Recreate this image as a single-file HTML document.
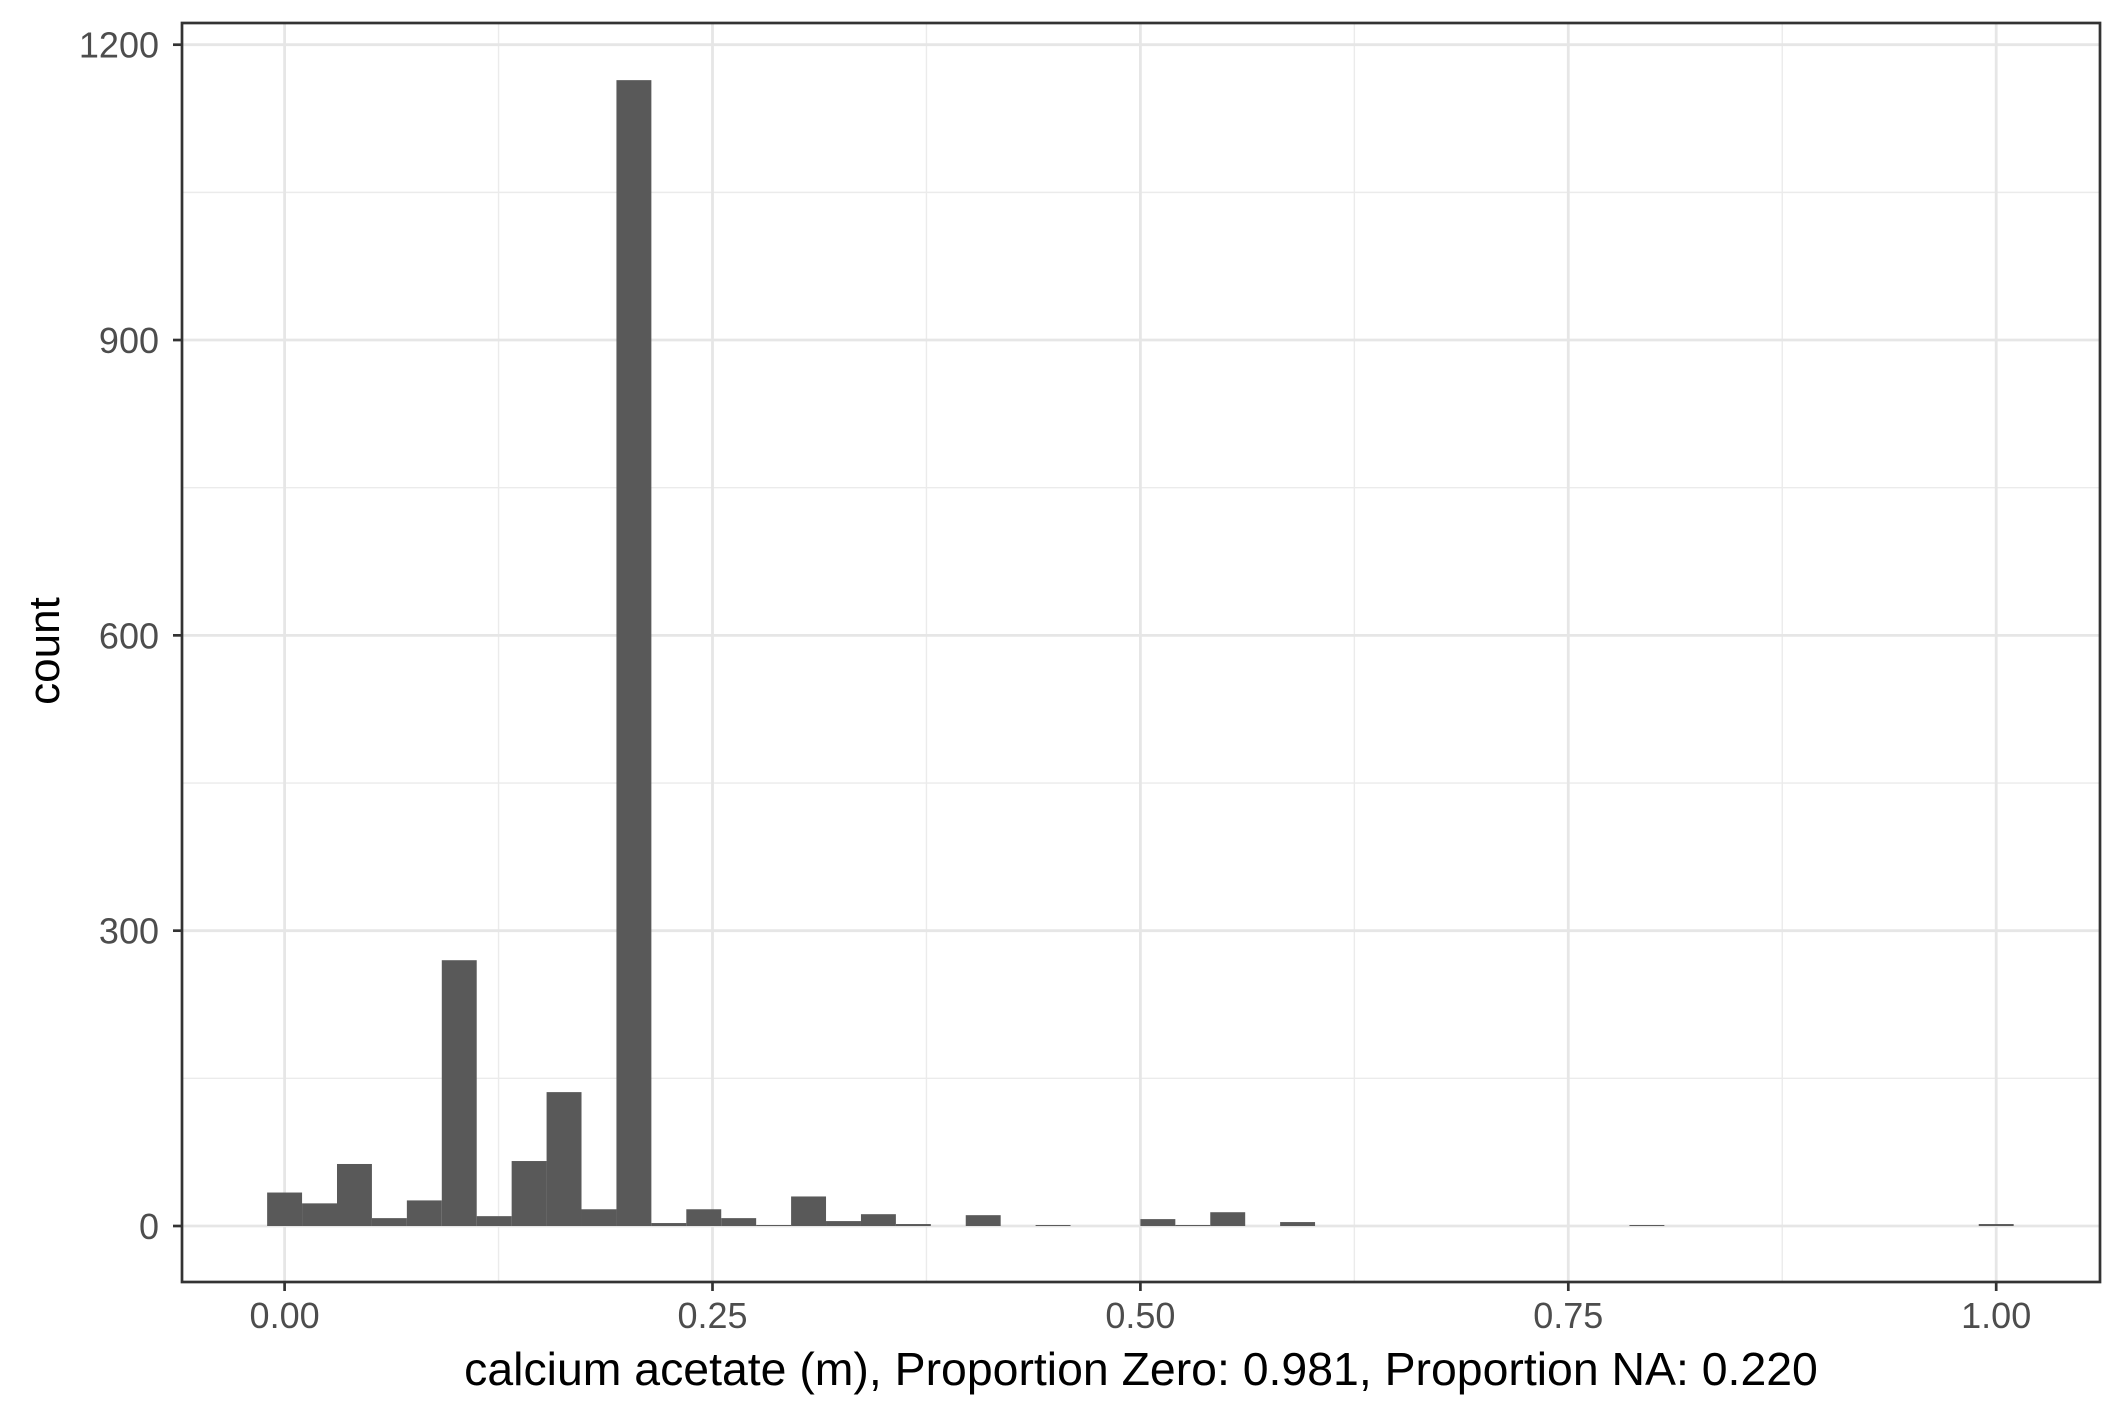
<!DOCTYPE html>
<html><head><meta charset="utf-8"><style>body{margin:0;background:#fff}svg{display:block}text{font-family:"Liberation Sans",Arial,sans-serif}</style></head>
<body>
<svg id="chart" width="2125" height="1417" viewBox="0 0 2125 1417">
<rect x="0" y="0" width="2125" height="1417" fill="#fff"/>
<g id="grid"></g><g id="bars"></g><g id="axes"></g>
</svg>
<script>
const binCenters = Array.from({length:50},(_,k)=>k/49);
const counts = [34,23,63,8,26,270,10,66,136,17,1164,3,17,8,1,30,5,12,2,0,11,0,1,0,0,7,1,14,0,4,0,0,0,0,0,0,0,0,0,1,0,0,0,0,0,0,0,0,0,2];
const xTicks = [0,0.25,0.5,0.75,1.0];
const xTickLabels = ["0.00","0.25","0.50","0.75","1.00"];
const yTicks = [0,300,600,900,1200];
const binWidth = 1/49;
const NS="http://www.w3.org/2000/svg";
const L=182,R=2100,T=23,B=1282;
const X=v=>284.6+v*1711.6;
const Y=v=>1226-v*(1226-44.7)/1200;
function mk(t,a,p){const e=document.createElementNS(NS,t);for(const k in a)e.setAttribute(k,a[k]);p.appendChild(e);return e;}
const grid=document.getElementById('grid'),bars=document.getElementById('bars'),axes=document.getElementById('axes');
for(let i=0;i<xTicks.length-1;i++){const m=(xTicks[i]+xTicks[i+1])/2;const e=mk('line',{x1:X(m),x2:X(m),y1:T,y2:B,stroke:'#ebebeb','stroke-width':1.4},grid);

}
for(let i=0;i<yTicks.length-1;i++){const m=(yTicks[i]+yTicks[i+1])/2;const e=mk('line',{x1:L,x2:R,y1:Y(m),y2:Y(m),stroke:'#ebebeb','stroke-width':1.4},grid);

}
xTicks.forEach(v=>{const e=mk('line',{x1:X(v),x2:X(v),y1:T,y2:B,stroke:'#e6e6e6','stroke-width':2.8},grid);

});
yTicks.forEach(v=>{const e=mk('line',{x1:L,x2:R,y1:Y(v),y2:Y(v),stroke:'#e6e6e6','stroke-width':2.8},grid);

});
binCenters.forEach((c,i)=>{const v=counts[i];const x0=X(c-binWidth/2),x1=X(c+binWidth/2);
const e=mk('rect',{x:x0,y:Y(v),width:x1-x0,height:Y(0)-Y(v),fill:'#595959'},bars);

});
const pb=mk('rect',{x:L,y:T,width:R-L,height:B-T,fill:'none',stroke:'#333','stroke-width':2.7},axes);


xTicks.forEach((v,i)=>{mk('line',{x1:X(v),x2:X(v),y1:B,y2:B+9,stroke:'#333','stroke-width':2.7},axes);
const t=mk('text',{x:X(v),y:B+46,'text-anchor':'middle','font-size':36,fill:'#4d4d4d'},axes);t.textContent=xTickLabels[i];

});
yTicks.forEach(v=>{mk('line',{x1:L-9,x2:L,y1:Y(v),y2:Y(v),stroke:'#333','stroke-width':2.7},axes);
const t=mk('text',{x:159,y:Y(v)+13,'text-anchor':'end','font-size':36,fill:'#4d4d4d'},axes);t.textContent=String(v);

});
const xt=mk('text',{x:1141,y:1385,'text-anchor':'middle','font-size':46.4,fill:'#000'},axes);
xt.textContent='calcium acetate (m), Proportion Zero: 0.981, Proportion NA: 0.220';


const yt=mk('text',{x:0,y:0,'text-anchor':'middle','font-size':44,fill:'#000',transform:'translate(59,651) rotate(-90)'},axes);
yt.textContent='count';


</script>
</body></html>
